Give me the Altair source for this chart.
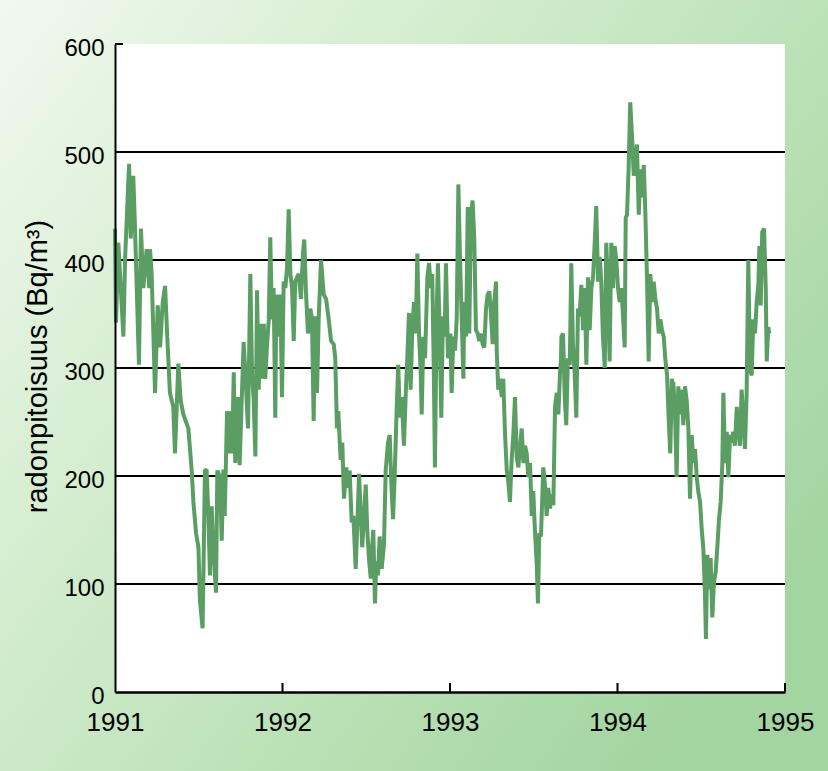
import altair as alt
import pandas as pd

# Radon concentration (Bq/m^3) readings, decimal year
dates = [
    1991.000, 1991.006, 1991.020, 1991.050, 1991.060, 1991.084, 1991.094, 1991.109, 1991.119, 1991.143,
    1991.155, 1991.169, 1991.189, 1991.205, 1991.209, 1991.219, 1991.239, 1991.255, 1991.269, 1991.285,
    1991.299, 1991.312, 1991.328, 1991.348, 1991.358, 1991.378, 1991.392, 1991.408, 1991.438, 1991.458,
    1991.468, 1991.484, 1991.498, 1991.507, 1991.523, 1991.537, 1991.547, 1991.557, 1991.567, 1991.577,
    1991.587, 1991.603, 1991.611, 1991.627, 1991.637, 1991.647,
    1991.655, 1991.669, 1991.679, 1991.688, 1991.699, 1991.709, 1991.718, 1991.733, 1991.744, 1991.758,
    1991.768, 1991.778, 1991.794, 1991.808, 1991.818, 1991.828, 1991.838, 1991.848, 1991.858, 1991.867,
    1991.878, 1991.888, 1991.897, 1991.907, 1991.918, 1991.927, 1991.937, 1991.947, 1991.957, 1991.963,
    1991.973, 1991.987, 1991.997, 1992.007, 1992.017, 1992.027, 1992.037, 1992.047, 1992.057, 1992.067,
    1992.076, 1992.087, 1992.097, 1992.110, 1992.122, 1992.130, 1992.140, 1992.152, 1992.166, 1992.176,
    1992.186, 1992.196, 1992.206, 1992.216, 1992.230, 1992.246, 1992.260, 1992.276, 1992.290, 1992.306,
    1992.315, 1992.325,
    1992.327, 1992.333, 1992.347, 1992.357, 1992.367, 1992.381, 1992.391, 1992.401, 1992.413, 1992.423,
    1992.437, 1992.447, 1992.457, 1992.467, 1992.476, 1992.497, 1992.506, 1992.516, 1992.527, 1992.532,
    1992.542, 1992.552, 1992.560, 1992.570, 1992.580, 1992.592, 1992.606, 1992.616, 1992.630, 1992.640,
    1992.650, 1992.660, 1992.670, 1992.682, 1992.691, 1992.701, 1992.712, 1992.725, 1992.736, 1992.745,
    1992.755, 1992.765, 1992.775, 1992.785, 1992.795, 1992.805, 1992.815, 1992.825, 1992.831, 1992.841,
    1992.851, 1992.865, 1992.875, 1992.885, 1992.894, 1992.904, 1992.910, 1992.921, 1992.928, 1992.939,
    1992.948, 1992.958, 1992.968, 1992.976, 1992.988,
    1992.996, 1993.002, 1993.010, 1993.020, 1993.030, 1993.040, 1993.050, 1993.060, 1993.070, 1993.080,
    1993.085, 1993.096, 1993.106, 1993.115, 1993.125, 1993.135, 1993.145, 1993.155, 1993.165, 1993.175,
    1993.185, 1993.195, 1993.205, 1993.215, 1993.225, 1993.235, 1993.245, 1993.255, 1993.264, 1993.275,
    1993.279, 1993.288, 1993.299, 1993.309, 1993.318, 1993.328, 1993.339, 1993.348, 1993.358, 1993.368,
    1993.378, 1993.388, 1993.398, 1993.408, 1993.418, 1993.428, 1993.438, 1993.448, 1993.458, 1993.467,
    1993.478, 1993.488, 1993.497, 1993.507, 1993.518, 1993.525, 1993.533, 1993.543, 1993.557, 1993.567,
    1993.577, 1993.587, 1993.597, 1993.607, 1993.617, 1993.627, 1993.637, 1993.647, 1993.657, 1993.663,
    1993.665, 1993.675, 1993.685, 1993.694, 1993.704, 1993.715, 1993.724, 1993.734, 1993.744, 1993.754,
    1993.764, 1993.774, 1993.784, 1993.794, 1993.804, 1993.814, 1993.824, 1993.834, 1993.844, 1993.854,
    1993.864, 1993.873, 1993.884, 1993.894, 1993.903, 1993.913, 1993.924, 1993.933, 1993.943, 1993.953,
    1993.963, 1993.973, 1993.983, 1993.993, 1994.003, 1994.013, 1994.023, 1994.033, 1994.043, 1994.049,
    1994.057, 1994.067, 1994.076, 1994.087, 1994.097, 1994.106, 1994.116, 1994.127, 1994.136, 1994.146,
    1994.157, 1994.166, 1994.176, 1994.186, 1994.196, 1994.206, 1994.216, 1994.226, 1994.236, 1994.246,
    1994.256, 1994.266, 1994.276, 1994.285, 1994.296, 1994.306, 1994.315, 1994.325, 1994.331,
    1994.333, 1994.343, 1994.353, 1994.363, 1994.373, 1994.383, 1994.393, 1994.403, 1994.413, 1994.423,
    1994.433, 1994.443, 1994.453, 1994.463, 1994.473, 1994.482, 1994.493, 1994.503, 1994.512, 1994.522,
    1994.528, 1994.536, 1994.546, 1994.556, 1994.566, 1994.576, 1994.586, 1994.596, 1994.606, 1994.616,
    1994.626, 1994.632, 1994.642, 1994.652, 1994.662, 1994.672, 1994.682, 1994.691, 1994.701, 1994.712,
    1994.721, 1994.731, 1994.741, 1994.751, 1994.761, 1994.771, 1994.781, 1994.791, 1994.801, 1994.811,
    1994.821, 1994.831, 1994.841, 1994.847, 1994.855, 1994.864, 1994.875, 1994.885, 1994.891, 1994.900,
    1994.906,
]
radon = [
    429, 342, 416, 329, 400, 489, 420, 478, 432, 303,
    429, 374, 410, 374, 410, 387, 277, 358, 319, 361,
    376, 329, 277, 264, 221, 304, 270, 257, 244, 205,
    176, 147, 134, 85, 59, 205, 206, 166, 108, 172,
    134, 92, 205, 199, 140, 206,
    163, 260, 221, 260, 221, 296, 212, 273, 210, 277,
    324, 296, 244, 387, 296, 270, 218, 372, 280, 341,
    290, 341, 290, 319, 345, 421, 345, 374, 254, 368,
    329, 368, 273, 380, 374, 393, 447, 387, 374, 325,
    380, 384, 387, 364, 406, 419, 371, 332, 355, 345,
    251, 348, 277, 345, 400, 368, 364, 345, 325, 322,
    309, 244,
    251, 260, 215, 231, 179, 208, 189, 205, 157, 163,
    114, 157, 202, 166, 134, 192, 150, 124, 105, 127,
    150, 82, 121, 108, 144, 114, 137, 205, 231, 238,
    192, 160, 202, 264, 303, 254, 273, 228, 277, 309,
    351, 280, 338, 361, 332, 406, 332, 296, 257, 329,
    309, 384, 397, 374, 387, 290, 208, 355, 397, 329,
    254, 348, 329, 397, 309,
    322, 332, 277, 329, 316, 345, 470, 400, 345, 290,
    361, 329, 449, 332, 442, 455, 419, 335, 332, 325,
    332, 322, 319, 355, 368, 371, 348, 322, 361, 380,
    316, 280, 290, 273, 290, 241, 205, 195, 176, 215,
    238, 273, 218, 208, 228, 244, 212, 228, 221, 199,
    212, 163, 186, 150, 118, 82, 147, 144, 208, 192,
    163, 189, 170, 183, 173, 264, 277, 257, 296, 309,
    329, 332, 273, 247, 309, 303, 397, 322, 296, 254,
    355, 348, 377, 335, 374, 303, 384, 335, 374, 384,
    416, 450, 380, 403, 380, 329, 300, 416, 374, 306,
    416, 374, 413, 400, 374, 361, 374, 348, 319, 439,
    442, 488, 546, 514, 478, 491, 507, 442, 484, 458,
    488, 445, 384, 306, 387, 361, 380, 364, 355, 332,
    345, 335, 329, 309, 293, 251, 221, 290, 283,
    287, 260, 199, 283, 257, 280, 247, 283, 270, 244,
    179, 238, 212, 225, 199, 186, 176, 150, 134, 92,
    49, 127, 95, 124, 69, 102, 111, 134, 160, 176,
    212, 277, 212, 241, 199, 238, 231, 241, 228, 264,
    244, 228, 280, 251, 225, 277, 400, 300, 293, 345,
    332, 361, 377, 413, 358, 426, 429, 374, 306, 338,
    332,
]

year_ticks = [1991, 1992, 1993, 1994, 1995]
inner_ticks = [1992, 1993, 1994, 1995]
y_ticks = [0, 100, 200, 300, 400, 500, 600]
grid_values = [100, 200, 300, 400, 500]
top_tick = [600]

W, H = 670, 648
PAD = {"left": 115, "top": 44, "right": 43, "bottom": 79}

xscale = alt.Scale(domain=[1991, 1995], nice=False, zero=False)
yscale = alt.Scale(domain=[0, 600], nice=False)

xaxis = alt.Axis(
    values=year_ticks, format="d", title=None, grid=False, ticks=False,
    domainColor="black", domainWidth=2.5, labelColor="black",
    labelFont="Liberation Sans", labelFontSize=26,
    labelPadding=17, labelFlush=False, labelOverlap=False, zindex=1,
)
yaxis = alt.Axis(
    values=y_ticks, title="radonpitoisuus (Bq/m³)", grid=False, ticks=False,
    domainColor="black", domainWidth=2, labelColor="black",
    labelFont="Liberation Sans", labelFontSize=24, labelPadding=11,
    labelOffset=4, labelOverlap=False, labelFlush=False,
    titleFont="Liberation Sans", titleFontSize=29, titleFontWeight="normal",
    titleColor="black", titleAngle=270, titleX=-78, titleY=322,
    titleAlign="center", titleBaseline="middle", zindex=1,
)

X = alt.X("year:Q", scale=xscale, axis=xaxis)
Y = alt.Y("value:Q", scale=yscale, axis=yaxis)

gradient = alt.Gradient(
    gradient="linear",
    stops=[
        alt.GradientStop(color="#f1f9ef", offset=0),
        alt.GradientStop(color="#cdeac8", offset=0.45),
        alt.GradientStop(color="#a3d5a0", offset=1),
    ],
    x1=0, y1=0, x2=1, y2=0.7,
)

one = pd.DataFrame({"k": [0]})

bg = alt.Chart(one).mark_rect(fill=gradient).encode(
    x=alt.value(-PAD["left"]), x2=alt.value(W + PAD["right"]),
    y=alt.value(-PAD["top"]), y2=alt.value(H + PAD["bottom"]),
)
plot_bg = alt.Chart(one).mark_rect(fill="white").encode(
    x=alt.value(0), x2=alt.value(W), y=alt.value(0), y2=alt.value(H),
)
grid = alt.Chart(pd.DataFrame({"value": grid_values})).mark_rule(
    color="black", strokeWidth=2
).encode(y=Y, x=alt.value(0), x2=alt.value(W))

line = alt.Chart(pd.DataFrame({"year": dates, "value": radon})).mark_line(
    color="#5a9e64", strokeWidth=4, strokeJoin="bevel"
).encode(x=X, y=Y)

xt = alt.Chart(pd.DataFrame({"year": inner_ticks})).mark_rule(
    color="black", strokeWidth=2
).encode(x=X, y=alt.value(H), y2=alt.value(H - 9))

yt = alt.Chart(pd.DataFrame({"value": top_tick})).mark_rule(
    color="black", strokeWidth=2
).encode(y=Y, x=alt.value(0), x2=alt.value(8))

chart = alt.layer(bg, plot_bg, grid, line, xt, yt).properties(
    width=W, height=H, autosize="none", padding=PAD,
).configure_view(stroke=None)

chart.save("out.html", embed_options={"renderer": "svg", "actions": False})
